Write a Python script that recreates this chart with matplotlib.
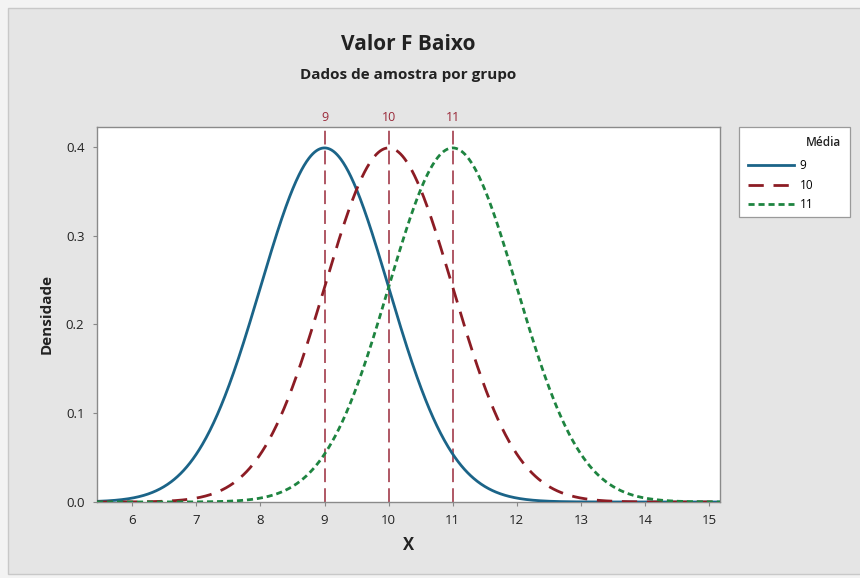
import numpy as np
import matplotlib
matplotlib.use("Agg")
import matplotlib.pyplot as plt
from matplotlib.patches import Rectangle

# group means and common standard deviation
medias = [9, 10, 11]
desvio = 1.0
rotulos = ["9", "10", "11"]
cores = ["#1b6488", "#8c1c24", "#1e8440"]
estilos = ["-", (0, (5.5, 3.5)), (0, (2.2, 1.4))]

x_min, x_max = 5.45, 15.17
x_ticks = [6, 7, 8, 9, 10, 11, 12, 13, 14, 15]
y_ticks = [0.0, 0.1, 0.2, 0.3, 0.4]

plt.rcParams['font.family'] = ['Open Sans', 'DejaVu Sans']

fig = plt.figure(figsize=(8.6, 5.78), dpi=100)
fig.patch.set_facecolor("#f3f3f3")
W, H = 860, 578


def px(x0, y0, x1, y1):
    # pixel box (top-left origin) -> figure fraction rect
    return (x0 / W, 1 - y1 / H, (x1 - x0) / W, (y1 - y0) / H)


# gray panel behind the graph
r = px(8, 8, 862, 574)
fig.patches.append(Rectangle(r[:2], r[2], r[3], transform=fig.transFigure,
                             facecolor="#e5e5e5", edgecolor="#c8c8c8", lw=1.0, zorder=-10))

ax = fig.add_axes(px(97, 127, 720, 502))
ax.set_facecolor("white")

x = np.linspace(x_min, x_max, 1000)
for m, lab, c, ls in zip(medias, rotulos, cores, estilos):
    y = np.exp(-0.5 * ((x - m) / desvio) ** 2) / (desvio * np.sqrt(2 * np.pi))
    ax.plot(x, y, color=c, ls=ls, lw=2.0, label=lab, zorder=3)

# reference lines at the means
for m in medias:
    ax.axvline(m, color="#9a2a3a", ls=(0, (9, 4)), lw=1.1, zorder=2)
    ax.text(m, 1.008, str(m), transform=ax.get_xaxis_transform(), ha="center", va="bottom",
            color="#9a2a3a", fontsize=9)

ax.set_xlim(x_min, x_max)
ax.set_ylim(0, 0.4225)
ax.set_xticks(x_ticks)
ax.set_yticks(y_ticks)
ax.set_yticklabels([f"{v:.1f}" for v in y_ticks])
ax.tick_params(direction="out", length=3, width=0.8, color="#888888", labelsize=9.5,
               labelcolor="#222222", pad=6)
for s in ax.spines.values():
    s.set_color("#8a8a8a")
    s.set_linewidth(1.0)

ax.set_xlabel("X", fontsize=12, fontweight="bold", color="#222222", labelpad=6)
ax.set_ylabel("Densidade", fontsize=11, fontweight="bold", color="#222222", labelpad=9)

fig.text(408 / W, 1 - 45 / H, "Valor F Baixo", ha="center", va="center",
         fontsize=15, fontweight="bold", color="#222222")
fig.text(408 / W, 1 - 75 / H, "Dados de amostra por grupo", ha="center", va="center",
         fontsize=11, fontweight="bold", color="#222222")

# legend box with the title at the right
lb = px(739, 127, 850, 217)
fig.patches.append(Rectangle(lb[:2], lb[2], lb[3], transform=fig.transFigure,
                             facecolor="white", edgecolor="#9a9a9a", lw=0.9, zorder=5))
fig.text(841 / W, 1 - 142 / H, "Média", ha="right", va="center", fontsize=8.5,
         fontweight="semibold", color="#222222", zorder=6)
leg = fig.legend(loc="upper left", bbox_to_anchor=(740 / W, 1 - 151 / H), fontsize=8.5,
                 frameon=False, handlelength=3.9, handletextpad=0.45, borderpad=0.2,
                 labelspacing=0.55)
leg.set_zorder(6)

fig.savefig("out.png", dpi=100, facecolor=fig.get_facecolor())
